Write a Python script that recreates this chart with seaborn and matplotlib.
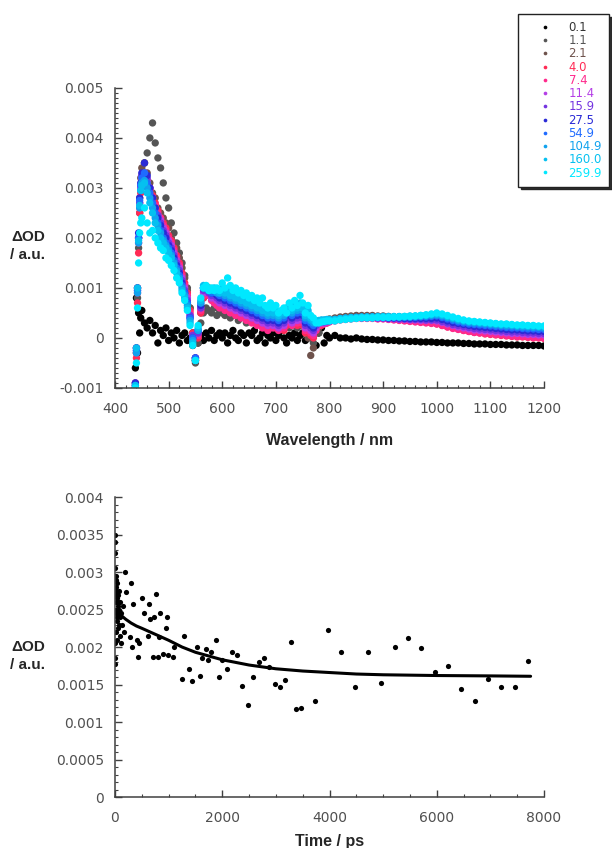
import numpy as np
import pandas as pd
import matplotlib
matplotlib.use("Agg")
import matplotlib.pyplot as plt
from matplotlib.ticker import MultipleLocator, FuncFormatter
import seaborn as sns

# ---- transient spectra (values in mOD) ----
wavelength = np.r_[438:449:2, 450:801:5, 810:1201:10]

delays = ["0.1", "1.1", "2.1", "4.0", "7.4", "11.4", "15.9", "27.5", "54.9", "104.9", "160.0", "259.9"]
colors = ["#000000", "#555555", "#6e524c", "#ff2b55", "#ff2a8c", "#b43ee6", "#7434e0",
          "#2a2ad6", "#1f6bff", "#10a2ee", "#05c0f0", "#00e8ff"]

od_0p1 = [-0.6, 0.8, -0.3, 0.5, 0.1, 0.4,
          0.55, 0.3, 0.2, 0.35, 0.1, 0.25, -0.1, 0.15, 0.05, 0.2,
          -0.05, 0.1, 0.0, 0.15, -0.1, 0.05, 0.1, -0.05, 0.0, -0.15,
          -0.45, -0.1, 0.05, -0.05, 0.1, 0.0, 0.15, -0.05, 0.05, 0.1,
          0.0, 0.1, -0.1, 0.05, 0.15, 0.0, -0.05, 0.1, 0.05, -0.1,
          0.1, 0.05, 0.15, -0.05, 0.0, 0.1, -0.1, 0.05, 0.0, 0.1,
          -0.05, 0.05, 0.15, 0.0, -0.1, 0.05, 0.0, 0.1, -0.05, 0.05,
          0.1, -0.05, 0.0, 0.15, 0.05, -0.15, 0.1, 0.2, -0.1, 0.05,
          0.0,
          0.05, 0.0, 0.0, -0.02, 0.0, -0.02, -0.03, -0.03, -0.04, -0.04,
          -0.05, -0.05, -0.06, -0.06, -0.07, -0.07, -0.08, -0.08, -0.08, -0.09,
          -0.09, -0.1, -0.1, -0.1, -0.11, -0.11, -0.12, -0.12, -0.12, -0.13,
          -0.13, -0.13, -0.14, -0.14, -0.14, -0.15, -0.15, -0.15, -0.15, -0.16]

od_1p1 = [-1.0, -0.3, 0.8, 1.8, 2.5, 3.0,
          3.2, 3.5, 3.7, 4.0, 4.3, 3.9, 3.6, 3.4, 3.1, 2.8,
          2.6, 2.3, 2.1, 1.9, 1.7, 1.5, 1.25, 1.0, 0.6, 0.1,
          -0.5, -0.1, 0.3, 0.5, 0.6, 0.55, 0.5, 0.6, 0.45, 0.55,
          0.5, 0.45, 0.55, 0.4, 0.45, 0.5, 0.35, 0.4, 0.45, 0.3,
          0.4, 0.35, 0.3, 0.4, 0.3, 0.25, 0.35, 0.3, 0.2, 0.3,
          0.25, 0.3, 0.2, 0.25, 0.3, 0.2, 0.25, 0.3, 0.2, 0.25,
          0.3, 0.2, 0.1, 0.0, -0.1, 0.2, 0.1, 0.3, 0.35, 0.3,
          0.35,
          0.36, 0.38, 0.4, 0.4, 0.42, 0.42, 0.42, 0.43, 0.42, 0.42,
          0.41, 0.4, 0.4, 0.39, 0.39, 0.38, 0.38, 0.37, 0.37, 0.36,
          0.34, 0.32, 0.3, 0.28, 0.26, 0.24, 0.22, 0.2, 0.19, 0.18,
          0.17, 0.16, 0.15, 0.14, 0.13, 0.12, 0.11, 0.1, 0.1, 0.09]

od_2p1 = [-0.9, -0.2, 1.0, 2.0, 2.8, 3.2,
          3.4, 3.5, 3.3, 3.1, 2.9, 2.8, 2.6, 2.5, 2.4, 2.3,
          2.2, 2.0, 1.9, 1.8, 1.6, 1.4, 1.2, 0.95, 0.6, 0.1,
          -0.45, 0.0, 0.5, 0.8, 0.95, 1.0, 0.9, 0.85, 0.9, 0.85,
          0.9, 0.85, 0.8, 0.85, 0.75, 0.8, 0.7, 0.75, 0.7, 0.65,
          0.7, 0.6, 0.65, 0.6, 0.55, 0.6, 0.5, 0.55, 0.5, 0.45,
          0.5, 0.4, 0.45, 0.5, 0.35, 0.45, 0.5, 0.55, 0.45, 0.5,
          0.4, 0.2, 0.0, -0.35, -0.2, 0.1, 0.2, 0.35, 0.3, 0.35,
          0.38,
          0.4, 0.42, 0.43, 0.44, 0.45, 0.45, 0.45, 0.45, 0.44, 0.44,
          0.43, 0.42, 0.42, 0.41, 0.41, 0.4, 0.4, 0.4, 0.41, 0.42,
          0.4, 0.38, 0.36, 0.34, 0.32, 0.31, 0.3, 0.3, 0.29, 0.28,
          0.27, 0.26, 0.26, 0.25, 0.24, 0.24, 0.23, 0.22, 0.22, 0.21]

od_4p0 = [-1.0, -0.4, 0.7, 1.7, 2.5, 2.9,
          3.1, 3.2, 3.15, 3.0, 2.85, 2.7, 2.55, 2.4, 2.3, 2.2,
          2.05, 1.95, 1.8, 1.65, 1.5, 1.3, 1.1, 0.9, 0.55, 0.1,
          -0.4, 0.0, 0.5, 0.8, 0.95, 0.85, 0.8, 0.75, 0.7, 0.65,
          0.7, 0.6, 0.65, 0.55, 0.6, 0.5, 0.55, 0.45, 0.5, 0.45,
          0.4, 0.35, 0.4, 0.3, 0.35, 0.25, 0.3, 0.2, 0.25, 0.3,
          0.2, 0.25, 0.3, 0.15, 0.25, 0.3, 0.35, 0.3, 0.25, 0.35,
          0.25, 0.1, 0.3, 0.05, 0.0, 0.2, 0.3, 0.25, 0.3, 0.32,
          0.33,
          0.35, 0.37, 0.38, 0.39, 0.4, 0.4, 0.4, 0.4, 0.39, 0.39,
          0.38, 0.37, 0.36, 0.35, 0.34, 0.33, 0.32, 0.31, 0.3, 0.28,
          0.25, 0.22, 0.2, 0.18, 0.15, 0.13, 0.11, 0.1, 0.08, 0.07,
          0.06, 0.05, 0.04, 0.03, 0.02, 0.02, 0.01, 0.0, 0.0, -0.01]

od_7p4 = [-0.95, -0.3, 0.9, 1.9, 2.6, 3.0,
          3.2, 3.25, 3.1, 2.95, 2.8, 2.65, 2.5, 2.4, 2.25, 2.15,
          2.0, 1.9, 1.75, 1.6, 1.45, 1.25, 1.05, 0.85, 0.5, 0.05,
          -0.45, 0.05, 0.55, 0.85, 0.9, 0.85, 0.75, 0.7, 0.65, 0.6,
          0.65, 0.55, 0.6, 0.5, 0.55, 0.45, 0.5, 0.4, 0.45, 0.35,
          0.4, 0.3, 0.35, 0.25, 0.3, 0.2, 0.25, 0.15, 0.25, 0.2,
          0.25, 0.15, 0.25, 0.2, 0.3, 0.35, 0.25, 0.35, 0.3, 0.4,
          0.3, 0.15, 0.25, 0.1, 0.05, 0.15, 0.25, 0.3, 0.28, 0.3,
          0.32,
          0.34, 0.36, 0.37, 0.38, 0.39, 0.39, 0.39, 0.39, 0.38, 0.38,
          0.37, 0.36, 0.35, 0.34, 0.33, 0.32, 0.31, 0.3, 0.29, 0.28,
          0.25, 0.22, 0.19, 0.17, 0.15, 0.13, 0.11, 0.1, 0.09, 0.08,
          0.07, 0.06, 0.05, 0.04, 0.03, 0.03, 0.02, 0.01, 0.01, 0.0]

od_11p4 = [-0.9, -0.2, 1.0, 2.0, 2.7, 3.0,
           3.2, 3.3, 3.15, 3.0, 2.8, 2.6, 2.45, 2.35, 2.2, 2.1,
           1.95, 1.85, 1.7, 1.55, 1.4, 1.2, 1.0, 0.8, 0.45, 0.05,
           -0.4, 0.1, 0.6, 0.9, 0.95, 0.9, 0.8, 0.8, 0.75, 0.7,
           0.75, 0.65, 0.7, 0.6, 0.6, 0.55, 0.55, 0.5, 0.5, 0.45,
           0.45, 0.4, 0.4, 0.35, 0.35, 0.3, 0.3, 0.25, 0.3, 0.25,
           0.3, 0.2, 0.3, 0.25, 0.35, 0.4, 0.3, 0.4, 0.35, 0.45,
           0.35, 0.2, 0.3, 0.15, 0.1, 0.2, 0.3, 0.3, 0.3, 0.32,
           0.33,
           0.35, 0.37, 0.38, 0.39, 0.4, 0.4, 0.4, 0.4, 0.39, 0.39,
           0.38, 0.38, 0.37, 0.37, 0.36, 0.36, 0.35, 0.35, 0.35, 0.34,
           0.31, 0.28, 0.25, 0.22, 0.2, 0.18, 0.16, 0.15, 0.14, 0.13,
           0.12, 0.11, 0.1, 0.09, 0.09, 0.08, 0.07, 0.07, 0.06, 0.06]

od_15p9 = [-0.95, -0.25, 0.95, 2.0, 2.7, 3.05,
           3.25, 3.3, 3.2, 3.0, 2.8, 2.6, 2.45, 2.3, 2.15, 2.05,
           1.9, 1.8, 1.65, 1.5, 1.35, 1.15, 0.95, 0.75, 0.45, 0.05,
           -0.4, 0.1, 0.6, 0.95, 1.0, 0.9, 0.85, 0.85, 0.8, 0.75,
           0.8, 0.7, 0.75, 0.65, 0.65, 0.6, 0.6, 0.55, 0.55, 0.5,
           0.5, 0.45, 0.45, 0.4, 0.4, 0.35, 0.35, 0.3, 0.35, 0.3,
           0.35, 0.25, 0.35, 0.3, 0.4, 0.45, 0.35, 0.45, 0.4, 0.5,
           0.4, 0.25, 0.35, 0.2, 0.15, 0.25, 0.3, 0.32, 0.32, 0.33,
           0.34,
           0.36, 0.38, 0.39, 0.4, 0.4, 0.41, 0.41, 0.41, 0.4, 0.4,
           0.39, 0.39, 0.38, 0.38, 0.37, 0.37, 0.37, 0.36, 0.36, 0.36,
           0.33, 0.3, 0.27, 0.25, 0.23, 0.21, 0.19, 0.18, 0.17, 0.16,
           0.15, 0.14, 0.13, 0.12, 0.12, 0.11, 0.1, 0.1, 0.09, 0.09]

od_27p5 = [-0.9, -0.2, 1.0, 2.1, 2.8, 3.1,
           3.3, 3.5, 3.25, 3.0, 2.8, 2.6, 2.4, 2.25, 2.1, 2.0,
           1.85, 1.75, 1.6, 1.45, 1.3, 1.1, 0.9, 0.7, 0.4, 0.0,
           -0.4, 0.15, 0.65, 1.0, 1.0, 0.95, 0.9, 0.9, 0.85, 0.8,
           0.85, 0.75, 0.8, 0.7, 0.7, 0.65, 0.65, 0.6, 0.6, 0.55,
           0.55, 0.5, 0.5, 0.45, 0.45, 0.4, 0.4, 0.35, 0.4, 0.35,
           0.4, 0.3, 0.4, 0.35, 0.45, 0.5, 0.4, 0.5, 0.45, 0.55,
           0.45, 0.3, 0.4, 0.25, 0.2, 0.3, 0.32, 0.33, 0.33, 0.34,
           0.35,
           0.36, 0.38, 0.39, 0.4, 0.41, 0.41, 0.41, 0.41, 0.41, 0.41,
           0.4, 0.4, 0.4, 0.39, 0.39, 0.39, 0.39, 0.39, 0.39, 0.4,
           0.37, 0.34, 0.31, 0.29, 0.27, 0.25, 0.23, 0.22, 0.21, 0.2,
           0.19, 0.18, 0.17, 0.16, 0.16, 0.15, 0.14, 0.14, 0.13, 0.13]

od_54p9 = [-0.95, -0.25, 0.95, 2.0, 2.75, 3.05,
           3.2, 3.3, 3.1, 2.9, 2.7, 2.5, 2.3, 2.15, 2.0, 1.9,
           1.8, 1.7, 1.55, 1.4, 1.25, 1.05, 0.9, 0.7, 0.4, 0.0,
           -0.4, 0.15, 0.7, 1.0, 1.0, 0.95, 0.9, 0.95, 0.9, 0.85,
           0.9, 0.8, 0.85, 0.75, 0.75, 0.7, 0.7, 0.65, 0.65, 0.6,
           0.6, 0.55, 0.55, 0.5, 0.5, 0.45, 0.45, 0.4, 0.45, 0.4,
           0.45, 0.35, 0.45, 0.4, 0.5, 0.55, 0.45, 0.55, 0.5, 0.6,
           0.5, 0.35, 0.45, 0.3, 0.25, 0.32, 0.33, 0.34, 0.34, 0.35,
           0.35,
           0.36, 0.38, 0.39, 0.4, 0.41, 0.41, 0.41, 0.42, 0.42, 0.42,
           0.41, 0.41, 0.41, 0.41, 0.41, 0.41, 0.42, 0.42, 0.43, 0.44,
           0.41, 0.38, 0.35, 0.32, 0.3, 0.28, 0.27, 0.26, 0.25, 0.24,
           0.23, 0.22, 0.21, 0.2, 0.2, 0.19, 0.18, 0.18, 0.17, 0.17]

od_104p9 = [-1.0, -0.3, 0.9, 1.9, 2.6, 2.95,
            3.1, 3.15, 3.0, 2.8, 2.6, 2.4, 2.25, 2.1, 1.95, 1.85,
            1.75, 1.65, 1.5, 1.35, 1.2, 1.0, 0.85, 0.65, 0.35, -0.05,
            -0.45, 0.15, 0.7, 1.0, 1.0, 0.95, 0.95, 0.95, 0.9, 0.9,
            0.95, 0.85, 0.9, 0.8, 0.8, 0.75, 0.75, 0.7, 0.7, 0.65,
            0.65, 0.6, 0.6, 0.55, 0.55, 0.5, 0.5, 0.45, 0.5, 0.45,
            0.5, 0.4, 0.5, 0.45, 0.55, 0.6, 0.5, 0.6, 0.55, 0.65,
            0.55, 0.4, 0.5, 0.35, 0.3, 0.33, 0.34, 0.35, 0.35, 0.36,
            0.36,
            0.37, 0.38, 0.39, 0.4, 0.41, 0.41, 0.42, 0.42, 0.42, 0.42,
            0.42, 0.42, 0.42, 0.42, 0.42, 0.43, 0.43, 0.44, 0.45, 0.46,
            0.44, 0.41, 0.38, 0.35, 0.33, 0.31, 0.3, 0.29, 0.28, 0.27,
            0.26, 0.25, 0.24, 0.24, 0.23, 0.22, 0.22, 0.21, 0.21, 0.2]

od_160p0 = [-0.95, -0.2, 1.0, 1.95, 2.65, 2.95,
            3.05, 3.1, 2.9, 2.7, 2.5, 2.3, 2.15, 2.0, 1.9, 1.8,
            1.7, 1.6, 1.45, 1.3, 1.15, 0.95, 0.8, 0.6, 0.3, -0.1,
            -0.45, 0.2, 0.75, 1.05, 1.0, 0.95, 0.95, 1.0, 0.95, 0.9,
            1.0, 0.9, 0.95, 0.85, 0.85, 0.8, 0.8, 0.75, 0.75, 0.7,
            0.7, 0.65, 0.65, 0.6, 0.6, 0.55, 0.55, 0.5, 0.55, 0.5,
            0.55, 0.45, 0.5, 0.5, 0.6, 0.65, 0.55, 0.65, 0.6, 0.7,
            0.6, 0.45, 0.55, 0.4, 0.35, 0.34, 0.35, 0.36, 0.36, 0.37,
            0.37,
            0.37, 0.39, 0.4, 0.41, 0.41, 0.42, 0.42, 0.42, 0.43, 0.43,
            0.43, 0.43, 0.43, 0.43, 0.44, 0.44, 0.45, 0.46, 0.47, 0.48,
            0.46, 0.43, 0.4, 0.37, 0.35, 0.33, 0.32, 0.31, 0.3, 0.29,
            0.28, 0.27, 0.27, 0.26, 0.25, 0.25, 0.24, 0.24, 0.23, 0.23]

od_259p9 = [-1.0, -0.5, 0.6, 1.5, 2.1, 2.3,
            2.4, 2.6, 2.3, 2.1, 2.15, 2.0, 1.9, 1.8, 1.75, 1.6,
            1.55, 1.45, 1.35, 1.2, 1.1, 0.9, 0.75, 0.55, 0.25, -0.15,
            -0.45, 0.25, 0.8, 1.0, 1.05, 0.95, 1.0, 0.95, 1.0, 0.95,
            1.1, 1.0, 1.2, 1.05, 0.95, 1.0, 0.9, 0.95, 0.85, 0.9,
            0.8, 0.85, 0.75, 0.8, 0.7, 0.8, 0.65, 0.6, 0.7, 0.6,
            0.65, 0.5, 0.55, 0.6, 0.5, 0.7, 0.6, 0.75, 0.65, 0.85,
            0.7, 0.5, 0.65, 0.45, 0.4, 0.3, 0.3, 0.32, 0.33, 0.34,
            0.34,
            0.34, 0.36, 0.37, 0.38, 0.39, 0.4, 0.4, 0.4, 0.41, 0.41,
            0.41, 0.42, 0.42, 0.43, 0.43, 0.44, 0.45, 0.46, 0.48, 0.5,
            0.48, 0.45, 0.42, 0.39, 0.36, 0.34, 0.33, 0.32, 0.31, 0.3,
            0.29, 0.28, 0.28, 0.27, 0.26, 0.26, 0.25, 0.25, 0.24, 0.24]

spectra = [od_0p1, od_1p1, od_2p1, od_4p0, od_7p4, od_11p4, od_15p9,
           od_27p5, od_54p9, od_104p9, od_160p0, od_259p9]

# ---- kinetic trace (time in ps, values in mOD) ----
time_ps = [-5, -2, 0, 2, 3, 5, 6, 8, 10, 12, 14, 16, 18, 20, 22, 25, 28, 30, 33, 36,
           40, 44, 48, 52, 56, 60, 65, 70, 75, 80, 85, 90, 100, 110, 120, 135, 150, 165,
           187, 205, 280, 292, 311, 342, 405, 423, 454, 510, 541, 609, 634, 653, 703, 727,
           759, 796, 826, 839, 889, 945, 964, 994, 1088, 1106, 1243, 1293, 1386, 1436,
           1523, 1585, 1622, 1697, 1740, 1790, 1884, 1940, 1990, 2083, 2176, 2269, 2374,
           2474, 2579, 2679, 2779, 2878, 2984, 3077, 3177, 3276, 3370, 3469, 3724, 3972,
           4221, 4470, 4718, 4967, 5216, 5465, 5713, 5962, 6210, 6459, 6708, 6957, 7205,
           7454, 7703]
kinetic_od = [1.78, 2.05, 3.5, 3.4, 2.95, 3.25, 1.85, 3.05, 2.7, 2.9, 2.45, 2.8, 2.2, 2.6,
              2.95, 2.5, 2.75, 2.35, 2.65, 2.1, 2.85, 2.4, 2.55, 2.25, 2.7, 2.45, 2.6, 2.3,
              2.75, 2.5, 2.15, 2.4, 2.6, 2.05, 2.45, 2.3, 2.55, 2.2,
              3.0, 2.74, 2.14, 2.85, 2.0, 2.58, 2.09, 1.87, 2.05, 2.66, 2.45, 2.15, 2.58,
              2.38, 1.87, 2.4, 2.71, 1.87, 2.13, 2.46, 1.91, 2.25, 2.4, 1.89, 1.87, 2.0,
              1.58, 2.15, 1.71, 1.55, 2.0, 1.62, 1.85, 1.98, 1.83, 1.94, 2.09, 1.6, 1.83,
              1.71, 1.94, 1.89, 1.48, 1.23, 1.6, 1.8, 1.85, 1.74, 1.51, 1.47, 1.56, 2.07,
              1.18, 1.19, 1.28, 2.23, 1.93, 1.47, 1.93, 1.52, 2.0, 2.12, 1.99, 1.67, 1.75,
              1.44, 1.28, 1.57, 1.47, 1.47, 1.82]

fit_time = [0, 50, 100, 200, 300, 400, 500, 750, 1000, 1250, 1500, 2000, 2500, 3000,
            3500, 4000, 4500, 5000, 6000, 7000, 7750]
fit_od = [2.5, 2.46, 2.43, 2.37, 2.32, 2.28, 2.25, 2.17, 2.09, 2.0, 1.93, 1.83, 1.76,
          1.71, 1.68, 1.66, 1.64, 1.63, 1.62, 1.615, 1.61]

# ---- build frames ----
spec_df = pd.concat(
    [pd.DataFrame({"wl": wavelength, "od": np.array(v) * 1e-3, "delay": d})
     for d, v in zip(delays, spectra)], ignore_index=True)
kin_df = pd.DataFrame({"t": time_ps, "od": np.array(kinetic_od) * 1e-3})
fit_df = pd.DataFrame({"t": fit_time, "od": np.array(fit_od) * 1e-3})

sns.set_style("ticks")
plt.rcParams["font.family"] = ["DejaVu Sans"]

fig = plt.figure(figsize=(6.12, 8.48), dpi=100)
ax1 = fig.add_axes([0.1879, 0.5425, 0.7010, 0.3538])
ax2 = fig.add_axes([0.1879, 0.0601, 0.7010, 0.3538])

sns.scatterplot(data=spec_df, x="wl", y="od", hue="delay", hue_order=delays,
                palette=dict(zip(delays, colors)), s=28, linewidth=0, ax=ax1)

sns.scatterplot(data=kin_df, x="t", y="od", color="black", s=14, linewidth=0, ax=ax2)
sns.lineplot(data=fit_df, x="t", y="od", color="black", lw=2.2, estimator=None, ax=ax2)


def fmt(v, pos):
    return "0" if abs(v) < 1e-12 else f"{v:g}"


for ax in (ax1, ax2):
    sns.despine(ax=ax)
    for s in ("left", "bottom"):
        ax.spines[s].set_color("#404040")
        ax.spines[s].set_linewidth(1.1)
    ax.tick_params(which="both", direction="in", color="#404040", labelcolor="#505050",
                   labelsize=10)
    ax.tick_params(which="major", length=5, width=1)
    ax.tick_params(which="minor", length=2.5, width=0.8)
    ax.tick_params(axis="x", pad=10)
    ax.tick_params(axis="y", pad=8)
    ax.yaxis.set_major_formatter(FuncFormatter(fmt))
    ax.set_ylabel("")

ax1.set_xlim(400, 1200)
ax1.set_ylim(-0.001, 0.005)
ax1.xaxis.set_major_locator(MultipleLocator(100))
ax1.xaxis.set_minor_locator(MultipleLocator(20))
ax1.yaxis.set_major_locator(MultipleLocator(0.001))
ax1.yaxis.set_minor_locator(MultipleLocator(0.0001))
ax1.set_xlabel("Wavelength / nm", fontsize=11.5, fontweight="bold",
               family="Liberation Sans")
ax1.xaxis.set_label_coords(0.5, -0.15)

ax2.set_xlim(0, 8000)
ax2.set_ylim(0, 0.004)
ax2.xaxis.set_major_locator(MultipleLocator(2000))
ax2.xaxis.set_minor_locator(MultipleLocator(500))
ax2.yaxis.set_major_locator(MultipleLocator(0.0005))
ax2.yaxis.set_minor_locator(MultipleLocator(0.0001))
ax2.set_xlabel("Time / ps", fontsize=11.5, fontweight="bold", family="Liberation Sans")
ax2.xaxis.set_label_coords(0.5, -0.123)

for yc in (1 - 246 / 848, 1 - 656 / 848):
    fig.text(28 / 612, yc, "ΔOD\n/ a.u.", ha="center", va="center", fontsize=11,
             fontweight="bold", family="Liberation Sans", linespacing=1.3)

handles, labels = ax1.get_legend_handles_labels()
leg = ax1.legend(handles, labels, loc="upper right",
                 bbox_to_anchor=(609 / 612, 1 - 14 / 848), bbox_transform=fig.transFigure,
                 frameon=True, fancybox=False, shadow={"color": "0.1", "alpha": 0.9},
                 edgecolor="#222222", framealpha=1, fontsize=8.4, markerscale=0.5,
                 handlelength=3.4, handletextpad=0.3, labelspacing=0.02, borderpad=0.6,
                 borderaxespad=0)
leg.get_frame().set_linewidth(1.0)
for txt, c in zip(leg.get_texts(), colors):
    txt.set_color(c if c != "#000000" else "#333333")

fig.savefig("out.png", dpi=100, facecolor="white")
